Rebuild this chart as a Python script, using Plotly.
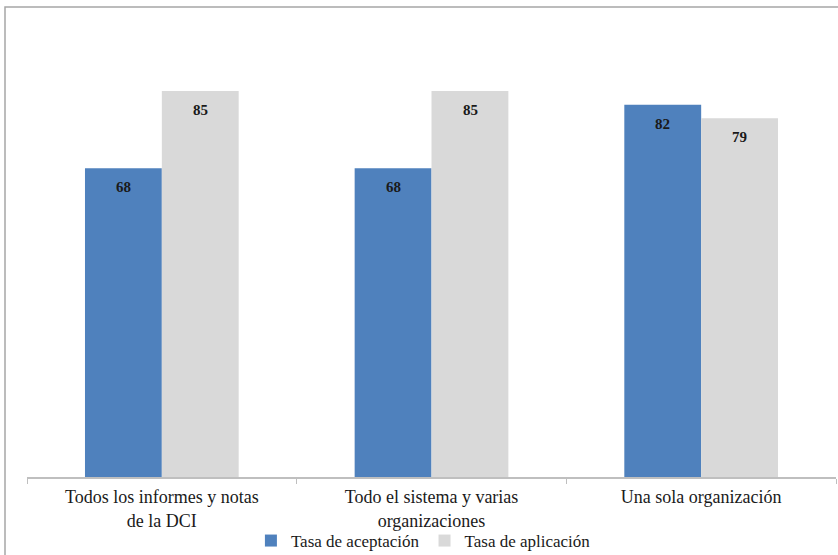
import plotly.graph_objects as go

categories = ["Todos los informes y notas<br>de la DCI", "Todo el sistema y varias<br>organizaciones", "Una sola organización"]
aceptacion = [68, 68, 82]
aplicacion = [85, 85, 79]

font_family = "Times New Roman, Liberation Serif, serif"

fig = go.Figure()
fig.add_trace(go.Bar(
    x=categories, y=aceptacion, name="Tasa de aceptación",
    marker=dict(color="#4f81bd", line=dict(width=0)),
))
fig.add_trace(go.Bar(
    x=categories, y=aplicacion, name="Tasa de aplicación",
    marker=dict(color="#d9d9d9", line=dict(width=0)),
))

annotations = []
for shift, vals in ((-38.5, aceptacion), (38.5, aplicacion)):
    for c, v in zip(categories, vals):
        annotations.append(dict(x=c, y=v, xref="x", yref="y", text=str(v), showarrow=False,
                                xshift=shift, yshift=-9, yanchor="top",
                                font=dict(family=font_family, size=15, color="#1a1a1a", weight="bold")))

L, R, T, B = 27, 2, 23, 78
W, H = 838, 555
pw = W - L - R
ph = H - T - B

fig.update_layout(
    width=W, height=H,
    margin=dict(l=L, r=R, t=T, b=B, autoexpand=False),
    paper_bgcolor="white", plot_bgcolor="white",
    barmode="group", bargap=0.43, bargroupgap=0,
    font=dict(family=font_family, color="#1a1a1a"),
    showlegend=True,
    legend=dict(orientation="h", x=0.49, xanchor="center", y=(477 - 541) / ph, yanchor="middle",
                font=dict(family=font_family, size=17, color="#1a1a1a"),
                traceorder="normal", bgcolor="rgba(0,0,0,0)"),
    xaxis=dict(showgrid=False, showline=True, linecolor="#bfbfbf", linewidth=1.5,
               ticks="outside", tickson="boundaries", ticklen=5, tickcolor="#bfbfbf",
               ticklabelstandoff=3, automargin=False,
               tickfont=dict(family=font_family, size=18, color="#1a1a1a")),
    yaxis=dict(range=[0, 100], visible=False, showgrid=False, automargin=False),
    annotations=annotations,
    shapes=[dict(type="rect", xref="paper", yref="paper",
                 x0=(5 - L) / pw, x1=1.05, y0=-0.3, y1=(477 - 7) / ph,
                 line=dict(color="#a6a6a6", width=1.5), fillcolor="rgba(0,0,0,0)", layer="below")],
)

fig.write_html("out.html")
